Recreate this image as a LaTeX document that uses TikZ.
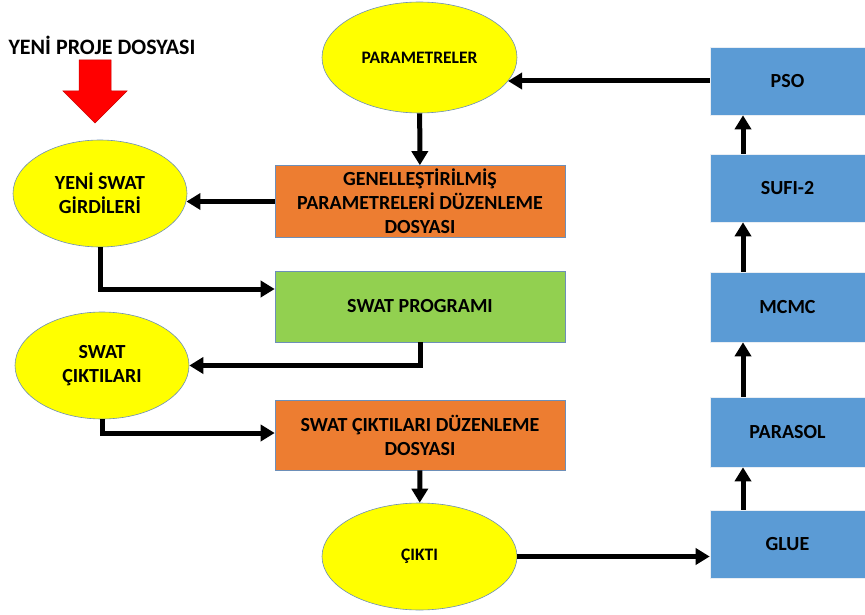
\documentclass[tikz,border=0pt]{standalone}
\usepackage{fontspec}
\setmainfont{Carlito}
\usetikzlibrary{shapes.geometric,arrows.meta,calc}
\definecolor{ylw}{HTML}{FFFF00}
\definecolor{org}{HTML}{ED7D31}
\definecolor{grn}{HTML}{92D050}
\definecolor{blu}{HTML}{5B9BD5}
\definecolor{edge}{HTML}{6D8FB8}
\definecolor{redarrow}{HTML}{FF0000}
\tikzset{
  txt/.style={font=\bfseries\fontsize{20}{24}\selectfont, align=center, text=black},
  smalltxt/.style={font=\bfseries\fontsize{17.5}{21}\selectfont},
  oval/.style={ellipse, draw=edge, line width=0.6pt, fill=ylw, inner sep=0pt, txt},
  obox/.style={rectangle, draw=edge, line width=0.6pt, fill=org, inner sep=0pt, txt,
     minimum width=290pt, minimum height=72pt},
  gbox/.style={rectangle, draw=edge, line width=0.6pt, fill=grn, inner sep=0pt, txt,
     minimum width=290pt, minimum height=71pt},
  bbox/.style={rectangle, draw=white!85!edge, line width=0.6pt, fill=blu, inner sep=0pt, txt,
     minimum width=155pt, minimum height=69pt},
  conn/.style={line width=5pt, -{Triangle[length=14pt,width=16pt]}},
}
\begin{document}
\begin{tikzpicture}[x=1pt,y=-1pt]
\useasboundingbox (0,0) rectangle (865,615);

% title and red arrow
\node[txt, font=\bfseries\fontsize{22}{26}\selectfont] (title) at (102,45) {YENİ PROJE DOSYASI};
\fill[redarrow, draw=red!80!black, line width=0.5pt] (79,60) -- (111,60) -- (111,91) -- (127,91) -- (95,123) -- (63,91) -- (79,91) -- cycle;

% left/middle column
\node[oval, smalltxt, minimum width=195pt, minimum height=111pt] (params) at (419.5,57.5) {PARAMETRELER};
\node[obox] (gen) at (420,201.5) {GENELLEŞTİRİLMİŞ\\PARAMETRELERİ DÜZENLEME\\DOSYASI};
\node[oval, minimum width=174pt, minimum height=107pt] (yeni) at (100,193.5) {YENİ SWAT\\GİRDİLERİ};
\node[gbox] (prog) at (420,306.5) {SWAT PROGRAMI};
\node[oval, minimum width=174pt, minimum height=107pt] (cik) at (102,365.5) {SWAT\\ÇIKTILARI};
\node[obox, minimum height=70pt] (dzn) at (420,435) {SWAT ÇIKTILARI DÜZENLEME\\DOSYASI};
\node[oval, smalltxt, minimum width=195pt, minimum height=107pt] (cikti) at (419.5,556.5) {ÇIKTI};

% right column
\node[bbox, minimum height=68pt] (glue) at (787.5,544) {GLUE};
\node[bbox, minimum height=70pt] (parasol) at (787.5,432) {PARASOL};
\node[bbox, minimum height=70pt] (mcmc) at (787.5,307) {MCMC};
\node[bbox, minimum height=68pt] (sufi) at (787.5,188) {SUFI-2};
\node[bbox, minimum height=68pt] (pso) at (787.5,81) {PSO};

% connectors
\draw[conn] (params) -- (gen);
\draw[conn] (gen.west) -- (gen.west -| yeni.-5.3);
\draw[conn] (yeni.south) |- ($(prog.west)+(0,-17.5)$);
\draw[conn] (prog.south) |- (cik.east);
\draw[conn] (cik.south) |- ($(dzn.west)+(0,-2)$);
\draw[conn] (dzn) -- (cikti);
\draw[conn] (cikti.east) -- (cikti.east -| glue.west);
\draw[conn] ($(glue.north)+(-44.5,0)$) -- ($(parasol.south)+(-44.5,0)$);
\draw[conn] ($(parasol.north)+(-44.5,0)$) -- ($(mcmc.south)+(-44.5,0)$);
\draw[conn] ($(mcmc.north)+(-44.5,0)$) -- ($(sufi.south)+(-44.5,0)$);
\draw[conn] ($(sufi.north)+(-44.5,0)$) -- ($(pso.south)+(-44.5,0)$);
\draw[conn] (pso.west) -- (pso.west -| params.-15.3);
\end{tikzpicture}
\end{document}
